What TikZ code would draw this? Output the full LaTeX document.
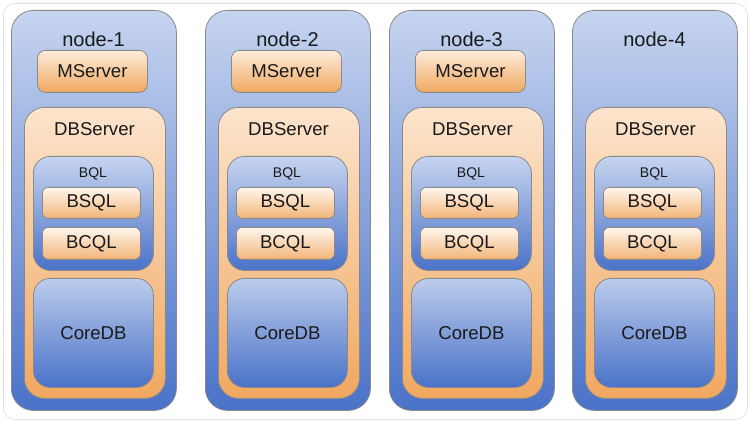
\documentclass[tikz,border=0pt]{standalone}
\usepackage{fontspec}
\setmainfont{Liberation Sans}
\usetikzlibrary{shadings}
\definecolor{bluetop}{HTML}{C6D4EF}
\definecolor{bluebot}{HTML}{4A72C8}
\definecolor{ortop}{HTML}{FCE4CD}
\definecolor{orbot}{HTML}{F0A860}
\definecolor{lighttop}{HTML}{FFF6EE}
\definecolor{edge}{HTML}{8A8A8A}
\definecolor{frame}{HTML}{E2E2E2}
\definecolor{ink}{HTML}{1A1A1A}
\tikzset{
  box/.style={draw=edge, line width=0.8pt, rectangle, inner sep=0pt, anchor=north west},
  hostbox/.style={box, rounded corners=22pt, top color=bluetop, bottom color=bluebot},
  dbbox/.style={box, rounded corners=20pt, top color=ortop, bottom color=orbot},
  bqlbox/.style={box, rounded corners=17pt, top color=bluetop, bottom color=bluebot},
  corebox/.style={box, rounded corners=17pt, top color=bluetop!92!bluebot, bottom color=bluebot},
  smallbox/.style={box, rounded corners=6pt, top color=lighttop, bottom color=orbot!85!white},
  msbox/.style={box, rounded corners=8pt, top color=ortop!70!white, bottom color=orbot},
  txt/.style={font=\fontsize{18.6}{20}\selectfont, text=ink, inner sep=0pt},
}
\begin{document}
\begin{tikzpicture}[x=1pt,y=-1pt]
\useasboundingbox (0,0) rectangle (750,422);
\node[draw=frame, line width=0.8pt, rounded corners=12pt, rectangle, minimum width=744pt, minimum height=416pt, anchor=north west, inner sep=0pt] (frame) at (3,3) {};
\foreach \x/\i in {11/1,205/2,389/3,572/4}{
  \node[hostbox, minimum width=165pt, minimum height=400pt] (host\i) at (\x,10) {};
  \node[txt, font=\fontsize{20}{22}\selectfont] (hostlbl\i) at (\x+82.5,39) {node-\i};
  \ifnum\i<4
    \node[msbox, minimum width=110pt, minimum height=42pt] (ms\i) at (\x+26,50) {};
    \node[txt] (mslbl\i) at (ms\i.center) {MServer};
  \fi
  \node[dbbox, minimum width=141pt, minimum height=291pt] (db\i) at (\x+13,107) {};
  \node[txt] (dblbl\i) at (\x+83.5,129) {DBServer};
  \node[bqlbox, minimum width=120pt, minimum height=114pt] (bql\i) at (\x+22,156) {};
  \node[txt, font=\fontsize{14}{16}\selectfont] (bqllbl\i) at (\x+82,174) {BQL};
  \node[smallbox, minimum width=98pt, minimum height=31pt] (bsql\i) at (\x+31,187) {};
  \node[txt] (bsqllbl\i) at (bsql\i.center) {BSQL};
  \node[smallbox, minimum width=98pt, minimum height=32pt] (bcql\i) at (\x+31,227) {};
  \node[txt] (bcqllbl\i) at (bcql\i.center) {BCQL};
  \node[corebox, minimum width=120pt, minimum height=109pt] (core\i) at (\x+22,278) {};
  \node[txt] (corelbl\i) at (core\i.center) {CoreDB};
}
\end{tikzpicture}
\end{document}
